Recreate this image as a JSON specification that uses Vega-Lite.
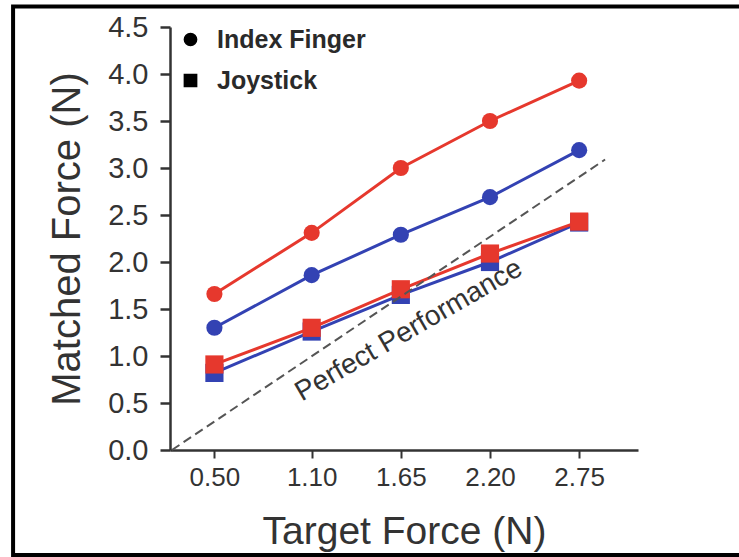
{
  "$schema": "https://vega.github.io/schema/vega-lite/v6.json",
  "width": 468,
  "height": 423,
  "autosize": "none",
  "padding": {"left": 170, "top": 27, "right": 101, "bottom": 107},
  "background": "white",
  "config": {
    "view": {"stroke": null},
    "font": "Liberation Sans",
    "axisX": {
      "labelFontSize": 26, "titleFontSize": 39, "titleFontWeight": "normal", "tickSize": 8,
      "labelPadding": 6, "titlePadding": 22, "domainColor": "#333333", "domainWidth": 2.5,
      "tickColor": "#333333", "tickWidth": 2, "labelColor": "#333333", "titleColor": "#333333", "grid": false
    },
    "axisY": {
      "labelFontSize": 29, "titleFontSize": 40, "titleFontWeight": "normal", "domainColor": "#333333",
      "domainWidth": 2.5, "tickColor": "#333333", "tickWidth": 2.5, "tickSize": 10, "labelPadding": 12,
      "titlePadding": 20, "grid": false, "labelColor": "#333333", "titleColor": "#333333"
    }
  },
  "layer": [
    {
      "data": {
        "values": [
          {"target": 0.50, "device": "Index Finger", "group": "Group 2", "force": 1.30},
          {"target": 1.10, "device": "Index Finger", "group": "Group 2", "force": 1.86},
          {"target": 1.65, "device": "Index Finger", "group": "Group 2", "force": 2.29},
          {"target": 2.20, "device": "Index Finger", "group": "Group 2", "force": 2.69},
          {"target": 2.75, "device": "Index Finger", "group": "Group 2", "force": 3.19},
          {"target": 0.50, "device": "Joystick", "group": "Group 2", "force": 0.82},
          {"target": 1.10, "device": "Joystick", "group": "Group 2", "force": 1.26},
          {"target": 1.65, "device": "Joystick", "group": "Group 2", "force": 1.65},
          {"target": 2.20, "device": "Joystick", "group": "Group 2", "force": 2.00},
          {"target": 2.75, "device": "Joystick", "group": "Group 2", "force": 2.42},
          {"target": 0.50, "device": "Index Finger", "group": "Group 1", "force": 1.66},
          {"target": 1.10, "device": "Index Finger", "group": "Group 1", "force": 2.31},
          {"target": 1.65, "device": "Index Finger", "group": "Group 1", "force": 3.00},
          {"target": 2.20, "device": "Index Finger", "group": "Group 1", "force": 3.50},
          {"target": 2.75, "device": "Index Finger", "group": "Group 1", "force": 3.93},
          {"target": 0.50, "device": "Joystick", "group": "Group 1", "force": 0.91},
          {"target": 1.10, "device": "Joystick", "group": "Group 1", "force": 1.30},
          {"target": 1.65, "device": "Joystick", "group": "Group 1", "force": 1.71},
          {"target": 2.20, "device": "Joystick", "group": "Group 1", "force": 2.09},
          {"target": 2.75, "device": "Joystick", "group": "Group 1", "force": 2.43}
        ]
      },
      "encoding": {
        "x": {
          "field": "target", "type": "quantitative",
          "scale": {"domain": [0.226, 3.113], "nice": false, "zero": false},
          "axis": {"title": "Target Force (N)", "values": [0.5, 1.1, 1.65, 2.2, 2.75], "format": ".2f"}
        },
        "y": {
          "field": "force", "type": "quantitative",
          "scale": {"domain": [0, 4.5], "nice": false},
          "axis": {"title": "Matched Force (N)", "values": [0, 0.5, 1, 1.5, 2, 2.5, 3, 3.5, 4, 4.5], "format": ".1f"}
        },
        "color": {
          "field": "group", "type": "nominal",
          "scale": {"domain": ["Group 1", "Group 2"], "range": ["#e6382d", "#3342b3"]},
          "legend": null
        },
        "shape": {
          "field": "device", "type": "nominal",
          "scale": {"domain": ["Index Finger", "Joystick"], "range": ["circle", "square"]},
          "legend": {
            "orient": "none", "legendX": 8, "legendY": 0, "title": null, "padding": 0,
            "labelFontSize": 25, "labelFontWeight": "bold", "labelColor": "#2a2a2a", "symbolFillColor": "black",
            "symbolStrokeColor": "black", "symbolSize": 150, "rowPadding": 15, "labelOffset": 14,
            "symbolOpacity": 1
          }
        }
      },
      "layer": [
        {
          "transform": [{"filter": "datum.group === 'Group 2'"}],
          "mark": {"type": "line", "strokeWidth": 3},
          "encoding": {"detail": {"field": "device", "type": "nominal"}, "shape": null}
        },
        {
          "transform": [{"filter": "datum.group === 'Group 2' && datum.device === 'Index Finger'"}],
          "mark": {"type": "point", "filled": true, "opacity": 1, "size": 260}
        },
        {
          "transform": [{"filter": "datum.group === 'Group 2' && datum.device === 'Joystick'"}],
          "mark": {"type": "point", "filled": true, "opacity": 1, "size": 330}
        },
        {
          "transform": [{"filter": "datum.group === 'Group 1'"}],
          "mark": {"type": "line", "strokeWidth": 3},
          "encoding": {"detail": {"field": "device", "type": "nominal"}, "shape": null}
        },
        {
          "transform": [{"filter": "datum.group === 'Group 1' && datum.device === 'Index Finger'"}],
          "mark": {"type": "point", "filled": true, "opacity": 1, "size": 260}
        },
        {
          "transform": [{"filter": "datum.group === 'Group 1' && datum.device === 'Joystick'"}],
          "mark": {"type": "point", "filled": true, "opacity": 1, "size": 330}
        }
      ]
    },
    {
      "data": {"values": [{}]},
      "mark": {"type": "rect", "filled": false, "stroke": "black", "strokeWidth": 4},
      "encoding": {
        "x": {"datum": -0.742, "type": "quantitative", "title": "Target Force (N)"},
        "x2": {"datum": 3.76},
        "y": {"datum": -1.117, "type": "quantitative", "title": "Matched Force (N)"},
        "y2": {"datum": 4.718}
      }
    },
    {
      "data": {"values": [{}]},
      "mark": {"type": "rule", "strokeDash": [9, 5], "strokeWidth": 2, "color": "#555555"},
      "encoding": {
        "x": {"datum": 0.238, "type": "quantitative", "title": "Target Force (N)"},
        "x2": {"datum": 2.91},
        "y": {"datum": 0, "type": "quantitative", "title": "Matched Force (N)"},
        "y2": {"datum": 3.09}
      }
    },
    {
      "data": {"values": [{}]},
      "mark": {"type": "text", "angle": 330, "fontSize": 28, "color": "#333333", "align": "center", "baseline": "middle"},
      "encoding": {
        "x": {"datum": 1.7, "type": "quantitative", "title": "Target Force (N)"},
        "y": {"datum": 1.27, "type": "quantitative", "title": "Matched Force (N)"},
        "text": {"value": "Perfect Performance"}
      }
    }
  ]
}
